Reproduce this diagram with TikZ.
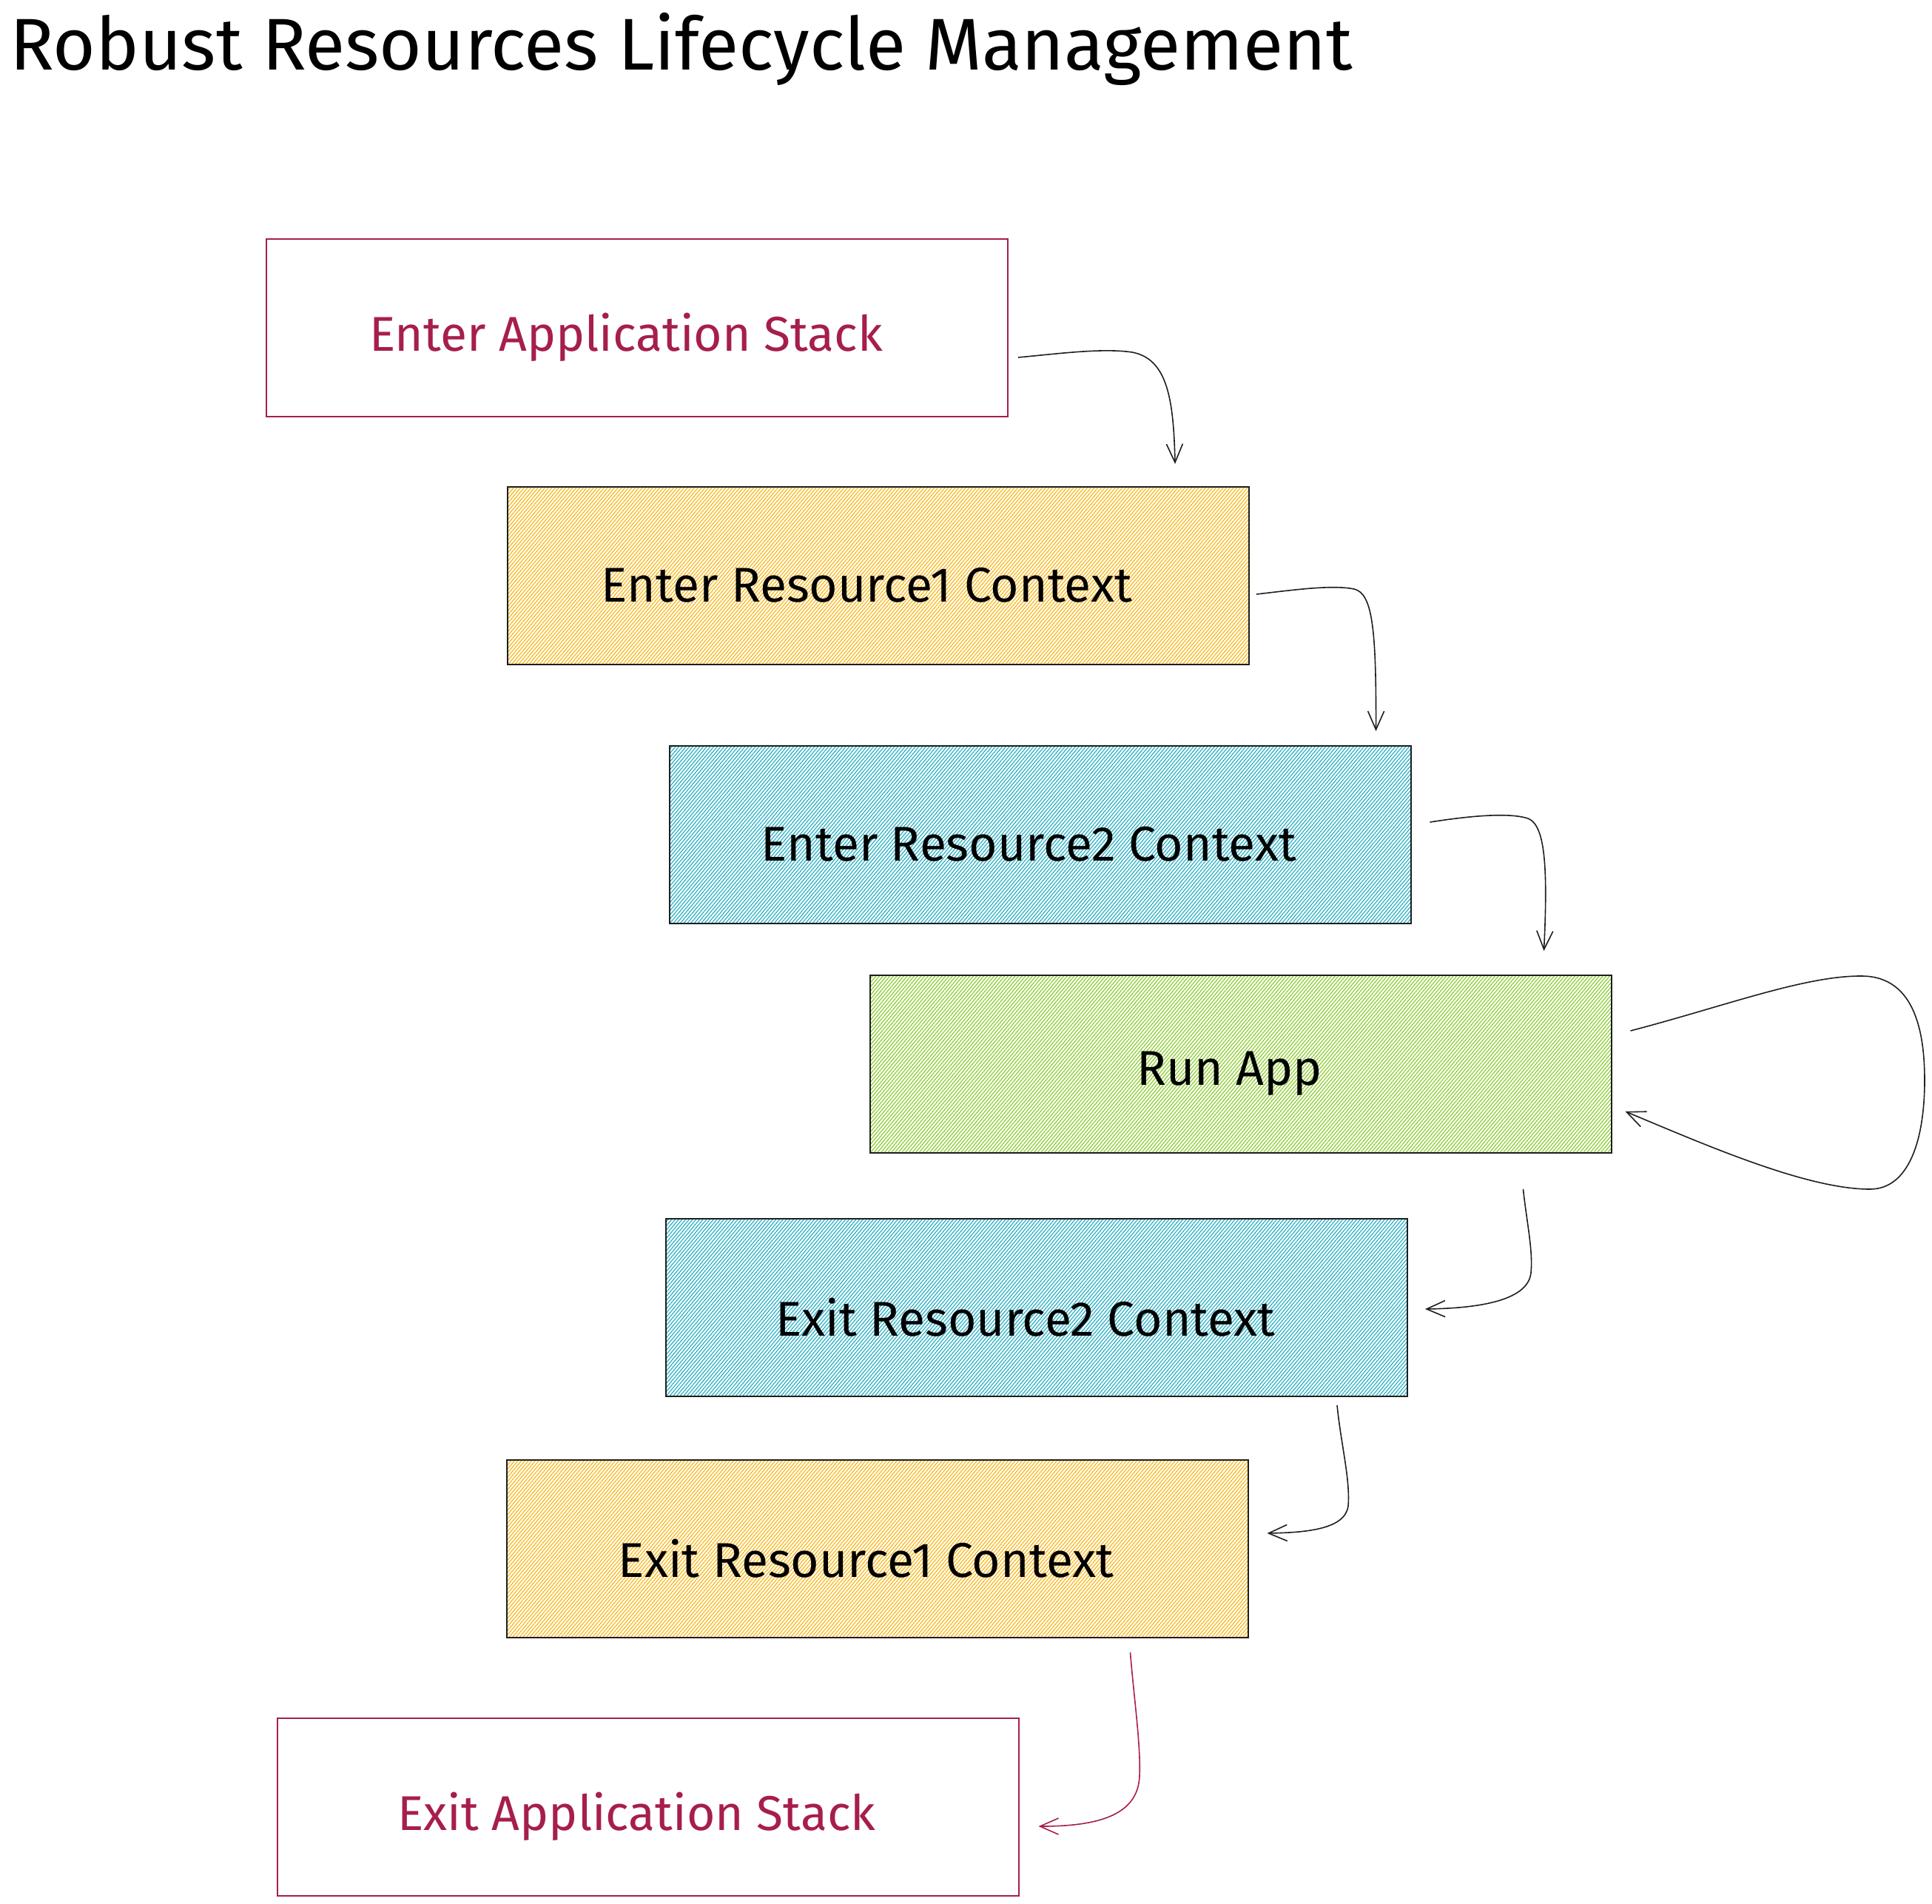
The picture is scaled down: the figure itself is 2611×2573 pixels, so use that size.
\documentclass[tikz,border=0pt]{standalone}
\usepackage{fontspec}
\setmainfont{Fira Sans}
\usetikzlibrary{arrows.meta,patterns.meta,calc}
\definecolor{crim}{HTML}{A61E4D}
\definecolor{ink}{HTML}{1E1E1E}
\definecolor{yel}{HTML}{FAB005}
\definecolor{cya}{HTML}{15AABF}
\definecolor{lim}{HTML}{82C91E}
\begin{document}
\begin{tikzpicture}[x=1pt,y=-1pt,
  box/.style={rectangle, minimum width=1002pt, minimum height=240pt, line width=2pt, inner sep=0pt},
  lbl/.style={font=\fontsize{66}{78}\selectfont, xshift=-15pt, yshift=-13pt, inner sep=0pt},
  plainbox/.style={box, draw=crim, label={[lbl, text=crim]center:#1}},
  hatchbox/.style 2 args={box, draw=ink, pattern={Lines[angle=50,distance=3.6pt,line width=1.1pt]}, pattern color=#1, label={[lbl, text=black]center:#2}},
  conn/.style={draw=ink, line width=1.6pt, -{Straight Barb[length=25pt,width=22pt]}},
  conncrim/.style={conn, draw=crim}
]
\useasboundingbox (0,0) rectangle (2611,2573);
\node[anchor=base west, inner sep=0pt, font=\fontsize{99}{115}\selectfont] (title) at (13,94) {Robust Resources Lifecycle Management};

\node[plainbox={Enter Application Stack}] (b1) at (861,442.5) {};
\node[hatchbox={yel}{Enter Resource1 Context}] (b2) at (1186.5,777.5) {};
\node[hatchbox={cya}{Enter Resource2 Context}] (b3) at (1405.5,1128) {};
\node[hatchbox={lim}{Run App}] (b4) at (1676.5,1438) {};
\node[hatchbox={cya}{Exit Resource2 Context}] (b5) at (1401,1767) {};
\node[hatchbox={yel}{Exit Resource1 Context}] (b6) at (1185.5,2093) {};
\node[plainbox={Exit Application Stack}] (b7) at (875.5,2442) {};

\draw[conn] ([shift={(13,40.5)}]b1.east) .. controls (1430,478) and (1490,470) .. (1530,476)
  .. controls (1578,485) and (1586,540) .. ([shift={(-100,-30)}]b2.north east);
\draw[conn] ([shift={(10,25.5)}]b2.east) .. controls (1750,797) and (1800,790) .. (1830,796)
  .. controls (1855,802) and (1860,850) .. ([shift={(-48,-19)}]b3.north east);
\draw[conn] ([shift={(25,-17)}]b3.east) .. controls (1990,1102) and (2040,1098) .. (2065,1106)
  .. controls (2088,1115) and (2092,1170) .. ([shift={(-92,-32)}]b4.north east);
\draw[conn] ([shift={(25,-45)}]b4.east) .. controls (2330,1360) and (2440,1318) .. (2517,1319)
  .. controls (2590,1320) and (2601,1400) .. (2601,1460)
  .. controls (2601,1540) and (2580,1607) .. (2527,1607)
  .. controls (2440,1607) and (2300,1545) .. ([shift={(18,64)}]b4.east);
\draw[conn] ([shift={(-120,48)}]b4.south east) .. controls (2063,1650) and (2072,1690) .. (2069,1720)
  .. controls (2065,1760) and (1990,1768) .. ([shift={(23,2)}]b5.east);
\draw[conn] ([shift={(-96,11)}]b5.south east) .. controls (1812,1950) and (1825,2000) .. (1822,2035)
  .. controls (1818,2068) and (1760,2071) .. ([shift={(25,-21)}]b6.east);
\draw[conncrim] ([shift={(-160,19)}]b6.south east) .. controls (1532,2290) and (1542,2360) .. (1540,2400)
  .. controls (1538,2455) and (1480,2468) .. ([shift={(26,26)}]b7.east);
\end{tikzpicture}
\end{document}
